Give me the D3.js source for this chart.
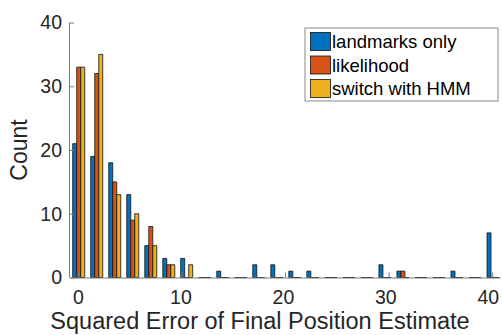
<!DOCTYPE html>
<html>
<head>
<meta charset="utf-8">
<script src="https://cdn.jsdelivr.net/npm/d3@7"></script>
<style>
  html, body { margin: 0; padding: 0; background: #fff; }
  svg { display: block; font-family: "Liberation Sans", Arial, Helvetica, sans-serif; }
</style>
</head>
<body>
<svg id="chart" width="502" height="335"></svg>
<script>
// Histogram bin centres (squared error)
const binCenters = [0.07, 1.81, 3.55, 5.29, 7.03, 8.77, 10.50, 12.24, 13.98, 15.72, 17.46, 19.20,
                    20.94, 22.68, 24.42, 26.16, 27.90, 29.64, 31.38, 33.12, 34.86, 36.60, 38.34, 40.08];

// Counts per bin for each method
const landmarksOnly = [21, 19, 18, 13, 5, 3, 3, 0, 1, 0, 2, 2, 1, 1, 0, 0, 0, 2, 1, 0, 0, 1, 0, 7];
const likelihood    = [33, 32, 15, 9, 8, 2, 0, 0, 0, 0, 0, 0, 0, 0, 0, 0, 0, 0, 1, 0, 0, 0, 0, 0];
const switchHMM     = [33, 35, 13, 10, 5, 2, 2, 0, 0, 0, 0, 0, 0, 0, 0, 0, 0, 0, 0, 0, 0, 0, 0, 0];

const seriesNames  = ["landmarks only", "likelihood", "switch with HMM"];
const seriesColors = ["#0072BD", "#D95319", "#EDB120"];
const xTicks = [0, 10, 20, 30, 40];
const yTicks = [0, 10, 20, 30, 40];

const series = [landmarksOnly, likelihood, switchHMM];

const svg = d3.select("#chart");
const plotLeft = 70, plotRight = 501, plotTop = 22.5, plotBottom = 277.5;

const x = d3.scaleLinear().domain([-0.77, 40.85]).range([plotLeft, plotRight]);
const y = d3.scaleLinear().domain([0, 40]).range([plotBottom, plotTop]);

const axisColor = "#7a7a7a";
const textColor = "#262626";

// Bars: three bars per bin, grouped around the bin centre
const step = x(binCenters[1]) - x(binCenters[0]);
const barW = step * 0.2222;
const bars = svg.append("g");
series.forEach((vals, si) => {
  bars.selectAll(null)
    .data(vals.map((v, i) => ({ v, c: binCenters[i] })))
    .enter()
    .append("path")
    .attr("d", d => {
      const x0 = x(d.c) + (si - 1.5) * barW;
      const x1 = x0 + barW;
      const y0 = y(0), y1 = y(d.v);
      return `M${x0},${y0}V${y1}H${x1}V${y0}Z`;
    })
    .attr("fill", seriesColors[si])
    .attr("stroke", "#111")
    .attr("stroke-width", 0.8);
});

// X axis (ticks point inward)
const xAxis = d3.axisBottom(x).tickValues(xTicks).tickSizeInner(-5).tickSizeOuter(0).tickPadding(13);
const gx = svg.append("g").attr("transform", `translate(0,${plotBottom})`).call(xAxis);
gx.select(".domain").attr("stroke", axisColor).attr("d", `M${plotLeft},0.5H${plotRight}`);
gx.selectAll(".tick line").attr("stroke", axisColor);
gx.selectAll(".tick text").attr("fill", textColor).attr("font-size", 19.5)
  .attr("dx", d => -d * 0.11)
  .attr("font-family", "'Liberation Sans', Arial, sans-serif");

// Y axis
const yAxis = d3.axisLeft(y).tickValues(yTicks).tickSizeInner(-4).tickSizeOuter(0).tickPadding(8);
const gy = svg.append("g").attr("transform", `translate(${plotLeft},0)`).call(yAxis);
gy.select(".domain").attr("stroke", axisColor).attr("d", `M-0.5,${plotTop}V${plotBottom}`);
gy.selectAll(".tick line").attr("stroke", axisColor);
gy.selectAll(".tick text").attr("fill", textColor).attr("font-size", 19.5)
  .attr("font-family", "'Liberation Sans', Arial, sans-serif");

// Axis titles
svg.append("text")
  .attr("x", 260).attr("y", 329)
  .attr("text-anchor", "middle")
  .attr("font-size", 23.5)
  .attr("fill", textColor)
  .text("Squared Error of Final Position Estimate");

svg.append("text")
  .attr("transform", `translate(27,${(plotTop + plotBottom) / 2}) rotate(-90)`)
  .attr("text-anchor", "middle")
  .attr("font-size", 23)
  .attr("fill", textColor)
  .text("Count");

// Legend
const legend = svg.append("g");
legend.append("rect")
  .attr("x", 305).attr("y", 28).attr("width", 193).attr("height", 73)
  .attr("fill", "#fff").attr("stroke", "#8a8a8a").attr("stroke-width", 1);
seriesNames.forEach((name, i) => {
  const cy = 41.5 + i * 23.5;
  legend.append("rect")
    .attr("x", 310.5).attr("y", cy - 9).attr("width", 20).attr("height", 18)
    .attr("fill", seriesColors[i]).attr("stroke", "#111").attr("stroke-width", 0.8);
  legend.append("text")
    .attr("x", 332).attr("y", cy + 6.5)
    .attr("font-size", 18.5)
    .attr("fill", "#000")
    .text(name);
});
</script>
</body>
</html>
